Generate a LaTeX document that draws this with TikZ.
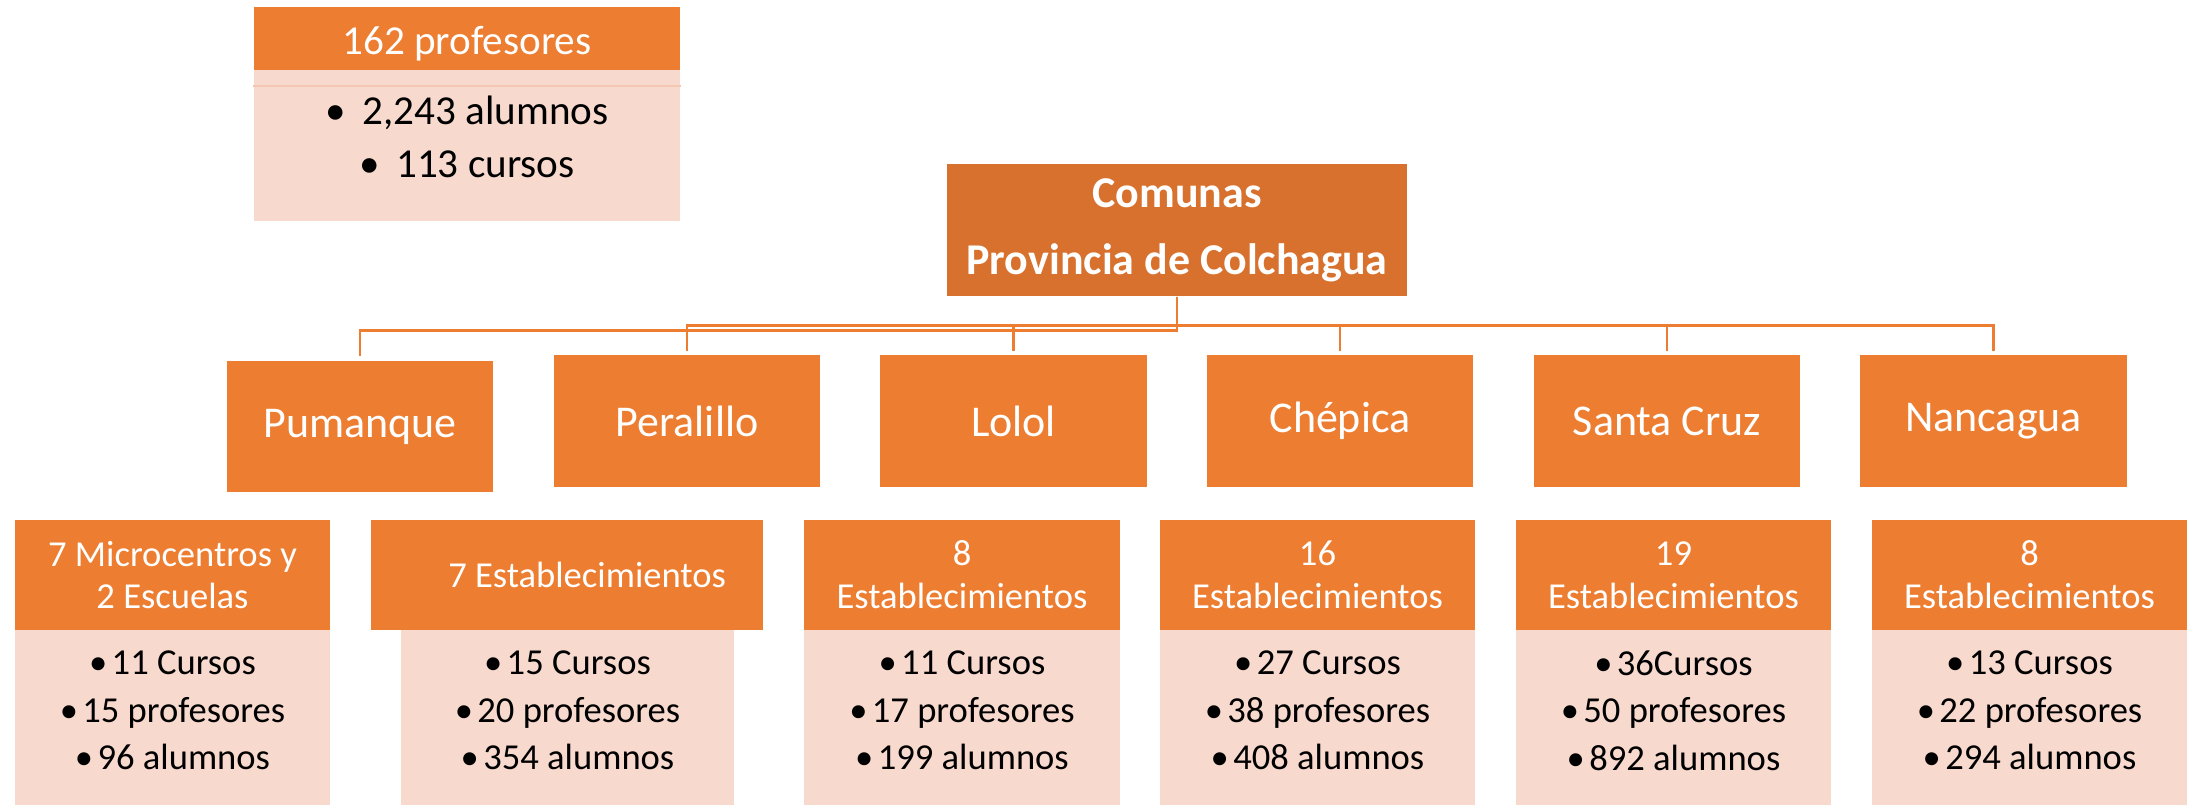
\documentclass[tikz,border=0pt]{standalone}
\usepackage{fontspec}
\setmainfont{Carlito}
\definecolor{hdr}{HTML}{ED7D31}
\definecolor{rootc}{HTML}{D7712D}
\definecolor{pinkc}{HTML}{F8D9CE}
\definecolor{bandc}{HTML}{F3C7B2}
\begin{document}
\begin{tikzpicture}[x=0.01cm,y=-0.01cm,
  box/.style={rectangle,draw=none,inner sep=0pt,align=center},
  rootbox/.style={box,fill=rootc,text=white,minimum width=4.6cm,minimum height=1.32cm,
    font=\fontsize{12.5}{19}\selectfont\bfseries},
  combox/.style={box,fill=hdr,text=white,minimum width=2.66cm,minimum height=1.31cm,
    font=\fontsize{12.5}{15}\selectfont},
  hdrbox/.style={box,fill=hdr,text=white,minimum width=3.15cm,minimum height=1.10cm,
    font=\fontsize{10.4}{12.2}\selectfont},
  bodybox/.style={box,fill=pinkc,minimum width=3.15cm,minimum height=1.75cm},
  bodytext/.style={box,text=black,font=\fontsize{10.4}{13.5}\selectfont},
  conn/.style={draw=hdr,line width=0.8pt,shorten >=0.04cm}
]
\useasboundingbox (0,0) rectangle (2198,805);

% top-left summary box
\node[box,fill=pinkc,minimum width=4.26cm,minimum height=1.51cm] (sumbody) at (467,145.5) {};
\node[box,fill=hdr,minimum width=4.26cm,minimum height=0.63cm] (sumhead) at (467,38.5) {};
\node[box,text=white,font=\fontsize{11.7}{14}\selectfont] (sumtitle) at (467,44) {162 profesores};
\draw[draw=bandc,line width=0.6pt] (sumbody.west |- 0,86) -- (sumbody.east |- 0,86);
\node[box,text=black,font=\fontsize{11.7}{15.1}\selectfont] (sumtext) at (467,136.5)
  {•\hspace{0.4em}2,243 alumnos\\•\hspace{0.4em}113 cursos};

% root
\node[rootbox] (root) at (1177,230) {Comunas\\Provincia de Colchagua};

% comunas
\node[combox] (pum) at (360,426.5) {Pumanque};
\node[combox] (per) at (687,421) {Peralillo};
\node[combox] (lol) at (1013.5,421) {Lolol};
\node[combox] (che) at (1340,421) {Chépica};
\node[combox] (sca) at (1667,421) {Santa Cruz};
\node[combox] (nan) at (1993.5,421) {Nancagua};

% connectors
\draw[conn] (root.south) -- ++(0,34) -| (pum.north);
\foreach \c in {per,lol,che,sca,nan}
  \draw[conn] (root.south) -- ++(0,29) -| (\c.north);

% third row: bodies
\node[bodybox] (b1) at (172.5,717.5) {};
\node[bodybox,minimum width=3.33cm] (b2) at (567.5,717.5) {};
\node[bodybox] (b3) at (962,717.5) {};
\node[bodybox] (b4) at (1317.5,717.5) {};
\node[bodybox] (b5) at (1673.5,717.5) {};
\node[bodybox] (b6) at (2029.5,717.5) {};

% third row: headers
\node[hdrbox] (h1) at (172.5,575) {7 Microcentros y\\2 Escuelas};
\node[hdrbox,minimum width=3.92cm] (h2) at (567,575) {\hspace*{1.1em}7 Establecimientos};
\node[hdrbox] (h3) at (962,575) {8\\Establecimientos};
\node[hdrbox] (h4) at (1317.5,575) {16\\Establecimientos};
\node[hdrbox] (h5) at (1673.5,575) {19\\Establecimientos};
\node[hdrbox] (h6) at (2029.5,575) {8\\Establecimientos};

% third row: body texts
\node[bodytext] (t1) at (172.5,710.5) {•\hspace{0.12em}11 Cursos\\•\hspace{0.12em}15 profesores\\•\hspace{0.12em}96 alumnos};
\node[bodytext] (t2) at (567.5,710.5) {•\hspace{0.12em}15 Cursos\\•\hspace{0.12em}20 profesores\\•\hspace{0.12em}354 alumnos};
\node[bodytext] (t3) at (962,710.5) {•\hspace{0.12em}11 Cursos\\•\hspace{0.12em}17 profesores\\•\hspace{0.12em}199 alumnos};
\node[bodytext] (t4) at (1317.5,710.5) {•\hspace{0.12em}27 Cursos\\•\hspace{0.12em}38 profesores\\•\hspace{0.12em}408 alumnos};
\node[bodytext] (t5) at (1673.5,710.5) {•\hspace{0.12em}36Cursos\\•\hspace{0.12em}50 profesores\\•\hspace{0.12em}892 alumnos};
\node[bodytext] (t6) at (2029.5,710.5) {•\hspace{0.12em}13 Cursos\\•\hspace{0.12em}22 profesores\\•\hspace{0.12em}294 alumnos};
\end{tikzpicture}
\end{document}
